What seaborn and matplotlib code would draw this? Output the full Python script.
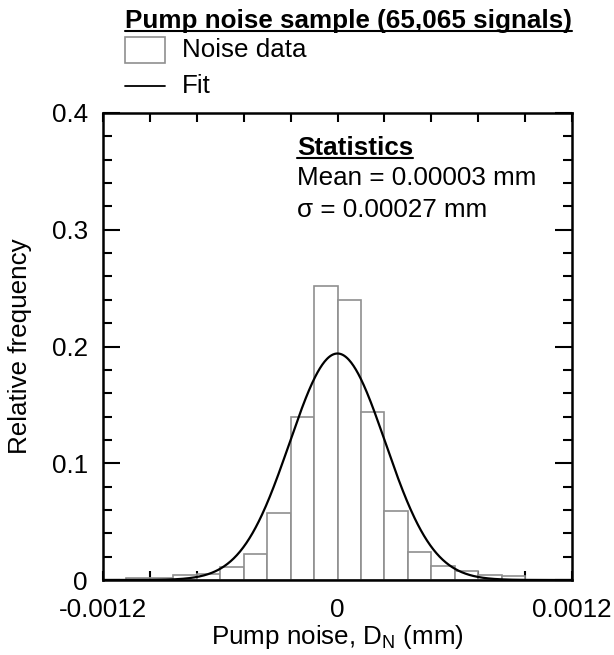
import numpy as np
import pandas as pd
import matplotlib
matplotlib.use("Agg")
import matplotlib.pyplot as plt
from matplotlib.lines import Line2D
from matplotlib.patches import Rectangle
from matplotlib.ticker import MultipleLocator, FixedLocator
import seaborn as sns

# ---- data ----
bin_edges = [-0.00108, -0.00096, -0.00084, -0.00072, -0.00060, -0.00048, -0.00036,
             -0.00024, -0.00012, 0.0, 0.00012, 0.00024, 0.00036, 0.00048,
             0.00060, 0.00072, 0.00084, 0.00096]
rel_freq = [0.002, 0.002, 0.004, 0.005, 0.011, 0.022, 0.057, 0.140, 0.252,
            0.240, 0.144, 0.059, 0.024, 0.012, 0.008, 0.004, 0.003]
# Gaussian fit parameters
fit_peak = 0.194
fit_center = 0.0
fit_sigma = 0.000245

x_ticks = [-0.0012, 0.0, 0.0012]
x_tick_labels = ["-0.0012", "0", "0.0012"]
y_ticks = [0.0, 0.1, 0.2, 0.3, 0.4]
y_tick_labels = ["0", "0.1", "0.2", "0.3", "0.4"]

title_text = "Pump noise sample (65,065 signals)"
legend_labels = ["Noise data", "Fit"]
stats_lines = ["Statistics", "Mean = 0.00003 mm", "\u03c3 = 0.00027 mm"]

# ---- style ----
sns.set_style("ticks")
plt.rcParams["font.family"] = ["Liberation Sans", "DejaVu Sans"]
plt.rcParams["mathtext.fontset"] = "custom"
plt.rcParams["mathtext.rm"] = "Liberation Sans"
plt.rcParams["text.color"] = "black"
plt.rcParams["axes.labelcolor"] = "black"
plt.rcParams["xtick.color"] = "black"
plt.rcParams["ytick.color"] = "black"
FS = 18.7

W, H = 614, 655
fig = plt.figure(figsize=(W / 100, H / 100), dpi=100)
ax = fig.add_axes([103 / W, 1 - 580 / H, (572 - 103) / W, (580 - 113) / H])

centers = [(a + b) / 2 for a, b in zip(bin_edges[:-1], bin_edges[1:])]
df = pd.DataFrame({"x": centers, "w": rel_freq})
sns.histplot(data=df, x="x", weights="w", bins=bin_edges, stat="count",
             color="white", edgecolor="#8f8f8f", linewidth=1.2, alpha=1,
             ax=ax, legend=False)

xs = np.linspace(-0.0012, 0.0012, 600)
ys = fit_peak * np.exp(-0.5 * ((xs - fit_center) / fit_sigma) ** 2)
sns.lineplot(x=xs, y=ys, color="black", linewidth=1.6, ax=ax)

ax.set_xlim(-0.0012, 0.0012)
ax.set_ylim(0, 0.4)
ax.xaxis.set_major_locator(FixedLocator(x_ticks))
ax.set_xticklabels(x_tick_labels)
ax.xaxis.set_minor_locator(MultipleLocator(0.00024))
ax.yaxis.set_major_locator(FixedLocator(y_ticks))
ax.set_yticklabels(y_tick_labels)
ax.yaxis.set_minor_locator(MultipleLocator(0.02))

for s in ax.spines.values():
    s.set_visible(True)
    s.set_linewidth(1.8)
    s.set_color("black")

ax.tick_params(axis="both", which="both", direction="in", colors="black",
               top=True, right=True, width=1.5, labelsize=FS)
ax.tick_params(axis="x", which="both", length=6.5, pad=13)
ax.tick_params(axis="y", which="major", length=12, pad=11)
ax.tick_params(axis="y", which="minor", length=6.5)

ax.set_xlabel("Pump noise, D$_\\mathregular{N}$ (mm)", fontsize=FS, labelpad=1)
ax.set_ylabel("Relative frequency", fontsize=FS, labelpad=14)

fig.canvas.draw()
renderer = fig.canvas.get_renderer()


def underlined(x_px, y_base_px, text, bold=False):
    t = fig.text(x_px / W, 1 - y_base_px / H, text, fontsize=FS,
                 fontweight="bold" if bold else "normal",
                 ha="left", va="baseline", color="black")
    bb = t.get_window_extent(renderer).transformed(fig.transFigure.inverted())
    yu = 1 - (y_base_px + 3) / H
    fig.add_artist(Line2D([bb.x0, bb.x1], [yu, yu], transform=fig.transFigure,
                          color="black", linewidth=1.5))
    return t


underlined(125, 28, title_text, bold=True)

# legend (drawn in figure space above the axes)
fig.add_artist(Rectangle((125 / W, 1 - 63 / H), 40 / W, 26 / H,
                         transform=fig.transFigure, facecolor="white",
                         edgecolor="#8f8f8f", linewidth=1.2))
fig.text(182 / W, 1 - 50 / H, legend_labels[0], fontsize=FS, ha="left", va="center")
fig.add_artist(Line2D([125 / W, 165 / W], [1 - 86 / H, 1 - 86 / H],
                      transform=fig.transFigure, color="black", linewidth=1.3))
fig.text(182 / W, 1 - 86 / H, legend_labels[1], fontsize=FS, ha="left", va="center")

# statistics block
underlined(297, 155, stats_lines[0], bold=True)
fig.text(297 / W, 1 - 185 / H, stats_lines[1], fontsize=FS, ha="left", va="baseline")
fig.text(297 / W, 1 - 217 / H, stats_lines[2], fontsize=FS, ha="left", va="baseline")

fig.savefig("out.png", dpi=100, facecolor="white")
